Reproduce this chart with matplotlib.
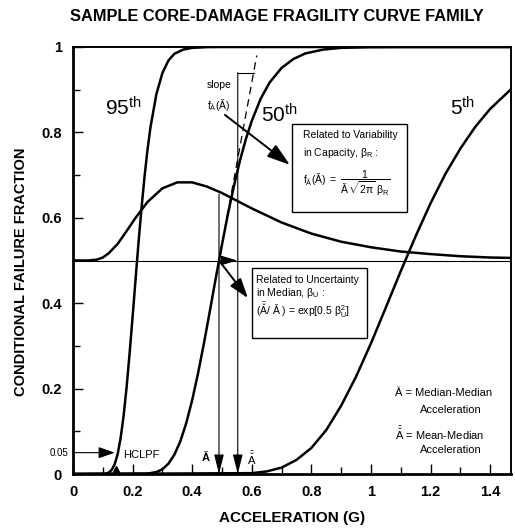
import matplotlib
matplotlib.use("Agg")
import matplotlib.pyplot as plt
from matplotlib.ticker import MultipleLocator, FuncFormatter
from matplotlib.patches import Rectangle

plt.rcParams['font.family'] = ['Liberation Sans', 'DejaVu Sans']
plt.rcParams['mathtext.fontset'] = 'custom'
plt.rcParams['mathtext.rm'] = 'Liberation Sans'
plt.rcParams['mathtext.it'] = 'Liberation Sans:italic'
plt.rcParams['mathtext.bf'] = 'Liberation Sans:bold'
plt.rcParams['mathtext.default'] = 'regular'

# fragility curves (acceleration in g, failure fraction)
acc_95 = [0.00, 0.10, 0.11, 0.12, 0.13, 0.14, 0.15, 0.16, 0.17, 0.18, 0.19,
          0.20, 0.21, 0.22, 0.23, 0.24, 0.25, 0.26, 0.28, 0.30, 0.32, 0.34,
          0.37, 0.40, 0.45, 0.50, 1.47]
frac_95 = [0.0, 0.0002, 0.0009, 0.0033, 0.0096, 0.023, 0.047, 0.085, 0.137,
           0.204, 0.283, 0.368, 0.456, 0.543, 0.623, 0.696, 0.759, 0.812,
           0.890, 0.939, 0.968, 0.984, 0.994, 0.998, 0.9997, 1.0, 1.0]

acc_50 = [0.00, 0.25, 0.28, 0.30, 0.32, 0.34, 0.36, 0.38, 0.40, 0.42, 0.44,
          0.46, 0.48, 0.50, 0.52, 0.54, 0.56, 0.58, 0.60, 0.63, 0.66, 0.70,
          0.74, 0.78, 0.84, 0.90, 1.00, 1.10, 1.47]
frac_50 = [0.0, 0.0009, 0.0046, 0.011, 0.024, 0.045, 0.076, 0.119, 0.173,
           0.237, 0.308, 0.384, 0.462, 0.537, 0.609, 0.674, 0.733, 0.784,
           0.827, 0.879, 0.917, 0.951, 0.972, 0.985, 0.994, 0.998, 0.9997,
           1.0, 1.0]

acc_5 = [0.00, 0.60, 0.65, 0.70, 0.75, 0.80, 0.85, 0.90, 0.95, 1.00, 1.05,
         1.10, 1.15, 1.20, 1.25, 1.30, 1.35, 1.40, 1.47]
frac_5 = [0.0, 0.002, 0.006, 0.015, 0.033, 0.061, 0.103, 0.160, 0.228, 0.306,
          0.390, 0.475, 0.557, 0.634, 0.703, 0.762, 0.813, 0.855, 0.901]

# uncertainty density of the median, drawn on the 0.5 baseline
acc_unc = [0.00, 0.05, 0.08, 0.10, 0.12, 0.15, 0.18, 0.21, 0.25, 0.30, 0.35,
           0.40, 0.45, 0.50, 0.55, 0.60, 0.70, 0.80, 0.90, 1.00, 1.10, 1.20,
           1.30, 1.40, 1.47]
frac_unc = [0.500, 0.500, 0.502, 0.507, 0.517, 0.539, 0.569, 0.600, 0.637,
            0.669, 0.683, 0.683, 0.673, 0.658, 0.640, 0.622, 0.589, 0.563,
            0.544, 0.531, 0.521, 0.515, 0.510, 0.507, 0.506]

a_median = 0.49
a_mean = 0.553
hclpf = 0.14
median_slope = 3.79

x_ticks = [0, 0.2, 0.4, 0.6, 0.8, 1.0, 1.2, 1.4]
y_ticks = [0, 0.2, 0.4, 0.6, 0.8, 1.0]

fig = plt.figure(figsize=(5.15, 5.30), dpi=100)
ax = fig.add_axes([73 / 515, 1 - 474 / 530, 438 / 515, 427 / 530])

for acc, frac in [(acc_95, frac_95), (acc_50, frac_50), (acc_5, frac_5),
                  (acc_unc, frac_unc)]:
    ax.plot(acc, frac, color='k', lw=1.8, solid_capstyle='round', zorder=4)

ax.axhline(0.5, color='k', lw=0.8, zorder=2)

# tangent at the median
y_tan = [0.40, 0.98]
x_tan = [a_median + (y - 0.5) / median_slope for y in y_tan]
ax.plot(x_tan, y_tan, color='k', lw=0.9, ls=(0, (6, 4)), zorder=3)

# slope bracket
top_y = 0.94
ax.plot([a_mean, a_median + (top_y - 0.5) / median_slope], [top_y, top_y],
        color='k', lw=0.8)

thin = dict(arrowstyle='-|>,head_length=1.2,head_width=0.3', color='k',
            lw=0.8, shrinkA=0, shrinkB=0)
ax.annotate('', xy=(a_median, 0.0), xytext=(a_median, 0.655), arrowprops=thin)
ax.annotate('', xy=(a_mean, 0.0), xytext=(a_mean, top_y), arrowprops=thin)
ax.annotate('', xy=(a_mean - 0.002, 0.5), xytext=(a_median, 0.5),
            arrowprops=dict(arrowstyle='-|>,head_length=1.0,head_width=0.3',
                            color='k', lw=0.8, shrinkA=0, shrinkB=0))
ax.annotate('', xy=(0.587, 0.412), xytext=(a_median, 0.5),
            arrowprops=dict(arrowstyle='-|>,head_length=1.2,head_width=0.4',
                            color='k', lw=1.4, shrinkA=0, shrinkB=0))
ax.annotate('', xy=(0.728, 0.724), xytext=(0.51, 0.841),
            arrowprops=dict(arrowstyle='-|>,head_length=1.4,head_width=0.45',
                            color='k', lw=1.4, shrinkA=0, shrinkB=0))
ax.annotate('', xy=(hclpf, 0.05), xytext=(0.0, 0.05),
            arrowprops=dict(arrowstyle='-|>,head_length=1.0,head_width=0.35',
                            color='k', lw=0.8, shrinkA=0, shrinkB=0))
ax.plot([hclpf + 0.005], [0.012], marker='^', color='k', ms=4)

# text boxes
ax.add_patch(Rectangle((0.735, 0.614), 0.386, 0.206, fill=True, fc='white',
                       ec='k', lw=1.0, zorder=5))
ax.add_patch(Rectangle((0.601, 0.3185), 0.386, 0.1635, fill=True, fc='white',
                       ec='k', lw=1.0, zorder=5))
box_font = dict(fontsize=7.5, va='center', ha='left', zorder=6)
ax.text(0.772, 0.794, 'Related to Variability', **box_font)
ax.text(0.772, 0.752, r'in Capacity, $\beta_R$ :', **box_font)
ax.text(0.772, 0.681,
        r'$f_{Ǎ}(Ǎ)\ =\ \dfrac{1}{Ǎ\,\sqrt{2\pi}\ \beta_R}$', **box_font)
ax.text(0.614, 0.454, 'Related to Uncertainty', **box_font)
ax.text(0.614, 0.424, r'in Median, $\beta_U$ :', **box_font)
ax.text(0.614, 0.384, r'($\bar{\breve{A}}$/ Ǎ ) = exp[0.5 $\beta_U^2$]',
        **box_font)

# curve labels
ax.text(0.107, 0.857, r'95$^{th}$', fontsize=15, va='center')
ax.text(0.63, 0.84, r'50$^{th}$', fontsize=15, va='center')
ax.text(1.265, 0.857, r'5$^{th}$', fontsize=15, va='center')

ax.text(0.49, 0.91, 'slope', fontsize=7.5, ha='center', va='center')
ax.text(0.49, 0.864, r'$f_{Ǎ}(Ǎ)$', fontsize=7.5, ha='center', va='center')
ax.text(0.168, 0.044, 'HCLPF', fontsize=8, va='center')
ax.text(0.446, 0.037, 'Ǎ', fontsize=8, ha='center', va='center',
        fontweight='bold')
ax.text(0.60, 0.037, r'$\bar{\breve{A}}$', fontsize=8, ha='center',
        va='center')
ax.text(-0.015, 0.05, '0.05', fontsize=7, ha='right', va='center')

ax.text(1.08, 0.19, 'Ǎ = Median-Median', fontsize=8, va='center')
ax.text(1.164, 0.15, 'Acceleration', fontsize=8, va='center')
ax.text(1.08, 0.094, r'$\bar{\breve{A}}$ = Mean-Median', fontsize=8,
        va='center')
ax.text(1.164, 0.056, 'Acceleration', fontsize=8, va='center')

ax.set_xlim(0, 1.47)
ax.set_ylim(0, 1)
ax.set_xticks(x_ticks)
ax.set_yticks(y_ticks)
ax.xaxis.set_minor_locator(MultipleLocator(0.1))
ax.yaxis.set_minor_locator(MultipleLocator(0.1))
fmt = FuncFormatter(lambda v, p: '%g' % v)
ax.xaxis.set_major_formatter(fmt)
ax.yaxis.set_major_formatter(fmt)
ax.tick_params(which='both', direction='in', width=1.0, labelsize=10.5)
ax.tick_params(which='major', length=7, pad=8)
ax.tick_params(which='minor', length=5)
for lab in ax.get_xticklabels() + ax.get_yticklabels():
    lab.set_fontweight('bold')
for side in ['top', 'right']:
    ax.spines[side].set_linewidth(1.4)
for side in ['left', 'bottom']:
    ax.spines[side].set_linewidth(2.0)

fig.text(277 / 515, 1 - 16.5 / 530,
         'SAMPLE CORE-DAMAGE FRAGILITY CURVE FAMILY',
         fontsize=11.8, fontweight='bold', ha='center', va='center')
fig.text(292 / 515, 1 - 518 / 530, 'ACCELERATION (G)', fontsize=11,
         fontweight='bold', ha='center', va='center')
fig.text(21 / 515, 1 - 272 / 530, 'CONDITIONAL FAILURE FRACTION',
         fontsize=10.5, fontweight='bold', ha='center', va='center',
         rotation=90)

fig.savefig('out.png', dpi=100)
